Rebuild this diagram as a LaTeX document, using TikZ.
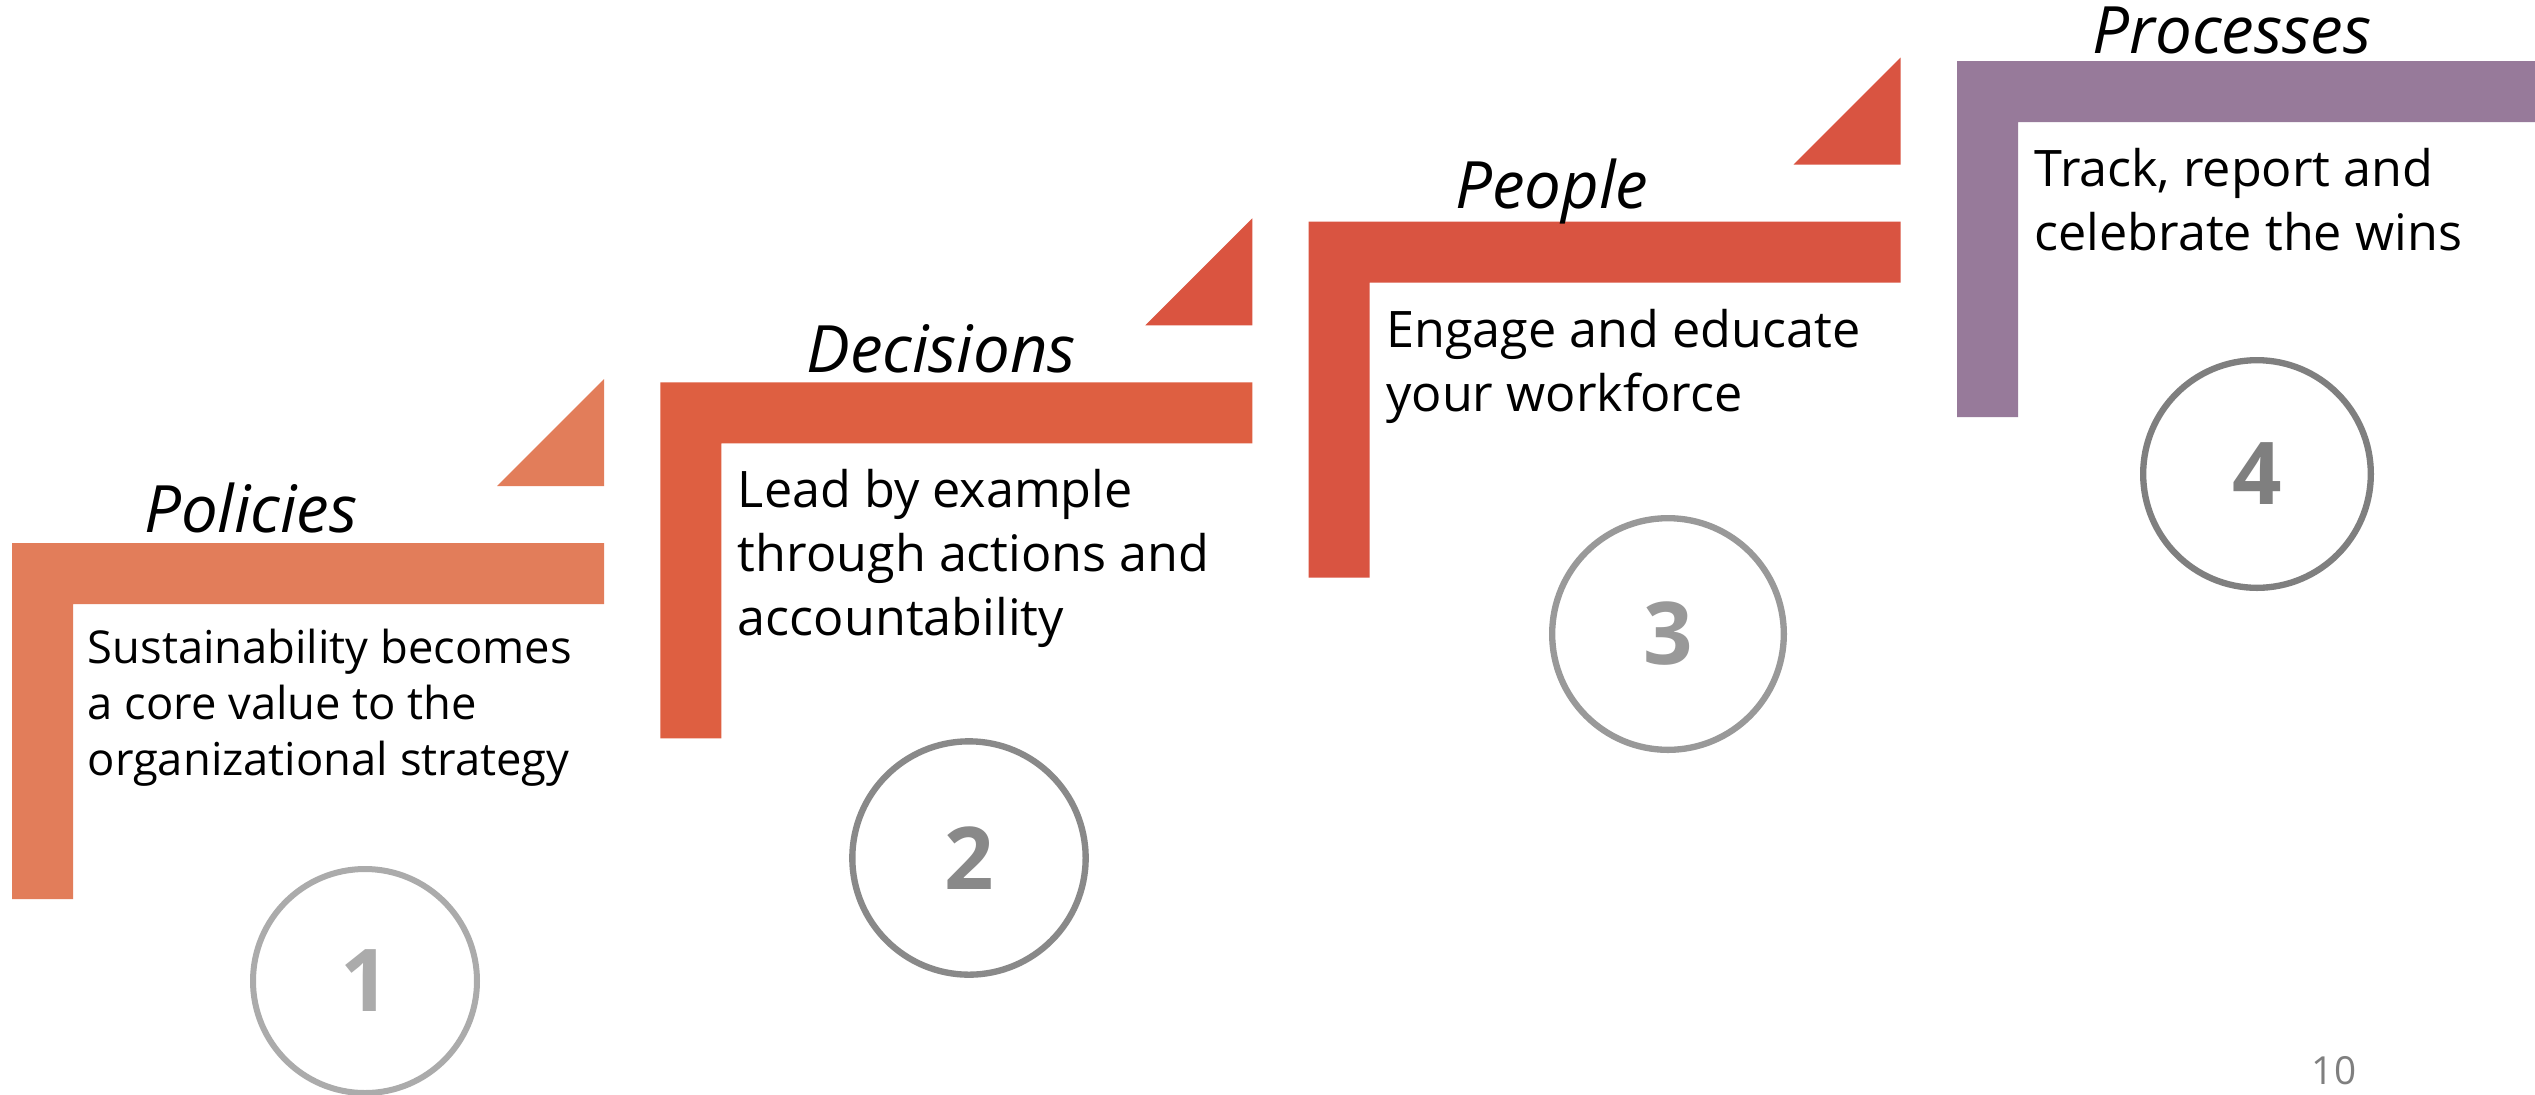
\documentclass[tikz,border=0pt]{standalone}
\usepackage{fontspec}
\setmainfont{Open Sans}
\definecolor{sA}{HTML}{E27D5A}
\definecolor{sB}{HTML}{DE5F41}
\definecolor{sBt}{HTML}{DA5440}
\definecolor{sC}{HTML}{D95441}
\definecolor{sD}{HTML}{977A9A}
\definecolor{gA}{HTML}{ABABAB}
\definecolor{gB}{HTML}{898989}
\definecolor{gC}{HTML}{999999}
\definecolor{gD}{HTML}{7F7F7F}
\tikzset{
  bodytext/.style={anchor=base west, inner sep=0pt, font=\fontsize{15.1}{18}\selectfont},
  bodysmall/.style={anchor=base west, inner sep=0pt, font=\fontsize{13.6}{16}\selectfont},
  steptitle/.style={anchor=base, inner sep=0pt, font=\fontsize{19.6}{23}\selectfont\itshape},
  numring/.style={circle, draw, line width=1.9pt, inner sep=0pt, font=\fontsize{26}{30}\selectfont\bfseries}
}
\begin{document}
\begin{tikzpicture}[x=0.3pt,y=-0.3pt]
\clip (0,0) rectangle (2535,1094);
\fill[white] (0,0) rectangle (2535,1094);
% step 1
\begin{scope}[shift={(12,543)}]
  \fill[sA] (0,0) -- (592,0) -- (592,61) -- (61,61) -- (61,356) -- (0,356) -- cycle;
  \fill[sA] (485,-57) -- (592,-57) -- (592,-164) -- cycle;
  \node[steptitle] (h1) at (239,-10.5) {Policies};
  \node[bodysmall] (t1a) at (75,120) {Sustainability becomes};
  \node[bodysmall] (t1b) at (75,176) {a core value to the};
  \node[bodysmall] (t1c) at (75,232) {organizational strategy};
\end{scope}
% step 2
\begin{scope}[shift={(660.3,382.3)}]
  \fill[sB] (0,0) -- (592,0) -- (592,61) -- (61,61) -- (61,356) -- (0,356) -- cycle;
  \fill[sBt] (485,-57) -- (592,-57) -- (592,-164) -- cycle;
  \node[steptitle] (h2) at (281,-10) {Decisions};
  \node[bodytext] (t2a) at (77,125.5) {Lead by example};
  \node[bodytext] (t2b) at (77,189.5) {through actions and};
  \node[bodytext] (t2c) at (77,253.5) {accountability};
\end{scope}
% step 3
\begin{scope}[shift={(1308.6,221.6)}]
  \fill[sC] (0,0) -- (592,0) -- (592,61) -- (61,61) -- (61,356) -- (0,356) -- cycle;
  \fill[sC] (485,-57) -- (592,-57) -- (592,-164) -- cycle;
  \node[steptitle] (h3) at (243,-13) {People};
  \node[bodytext] (t3a) at (77,125.5) {Engage and educate};
  \node[bodytext] (t3b) at (77,189.5) {your workforce};
\end{scope}
% step 4
\begin{scope}[shift={(1957,61)}]
  \fill[sD] (0,0) -- (592,0) -- (592,61) -- (61,61) -- (61,356) -- (0,356) -- cycle;
  \node[steptitle] (h4) at (275,-8) {Processes};
  \node[bodytext] (t4a) at (77,125.5) {Track, report and};
  \node[bodytext] (t4b) at (77,189.5) {celebrate the wins};
\end{scope}
% numbered rings
\node[numring, draw=gA, text=gA, line width=1.8pt, minimum size=67.2pt] (n1) at (365,981) {1};
\node[numring, draw=gB, text=gB, minimum size=70pt] (n2) at (969,858) {2};
\node[numring, draw=gC, text=gC, minimum size=69.5pt] (n3) at (1668,634) {3};
\node[numring, draw=gD, text=gD, minimum size=68.3pt] (n4) at (2257,474) {4};
% page number
\node[inner sep=0pt, text=gD, font=\fontsize{11.6}{14}\selectfont] (pg) at (2334,1070.5) {10};
\end{tikzpicture}
\end{document}
